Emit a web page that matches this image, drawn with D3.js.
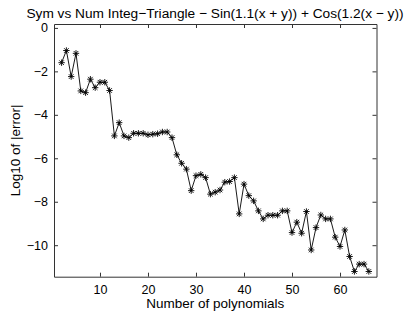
<!DOCTYPE html>
<html lang="en">
<head>
<meta charset="utf-8">
<title>Sym vs Num Integ</title>
<script src="https://d3js.org/d3.v7.min.js"></script>
<style type="text/css">
  body { margin: 0; background: #fff; }
  svg { display: block; font-family: "Liberation Sans", Arial, sans-serif; }
</style>
</head>
<body>
<script type="text/javascript">

  // number of polynomials
  var nPoly = [2, 3, 4, 5, 6, 7, 8, 9, 10, 11, 12, 13, 14, 15, 16, 17, 18, 19, 20, 21,
               22, 23, 24, 25, 26, 27, 28, 29, 30, 31, 32, 33, 34, 35, 36, 37, 38, 39, 40, 41,
               42, 43, 44, 45, 46, 47, 48, 49, 50, 51, 52, 53, 54, 55, 56, 57, 58, 59, 60, 61,
               62, 63, 64, 65, 66];
  // log10 of |error|
  var logErr = [-1.60, -1.04, -2.24, -1.17, -2.90, -2.98, -2.36, -2.75, -2.50, -2.50,
                -2.88, -4.97, -4.36, -4.97, -5.05, -4.85, -4.85, -4.85, -4.92, -4.89,
                -4.87, -4.79, -4.79, -5.05, -5.84, -6.23, -6.50, -7.49, -6.80, -6.74,
                -6.89, -7.65, -7.56, -7.46, -7.10, -7.07, -6.89, -8.56, -7.19, -7.72,
                -7.96, -8.42, -8.79, -8.62, -8.62, -8.62, -8.42, -8.42, -9.42, -8.94,
                -9.45, -8.45, -10.22, -9.19, -8.61, -8.79, -8.79, -9.63, -10.06, -9.30,
                -10.52, -11.21, -10.87, -10.87, -11.21];

  var xTicks = [10, 20, 30, 40, 50, 60];
  var yTicks = [0, -2, -4, -6, -8, -10];

  var W = 415, H = 312;
  var margin = {top: 24, right: 38.5, bottom: 35.3, left: 54};
  var width = W - margin.left - margin.right;
  var height = H - margin.top - margin.bottom;

  var svg = d3.select("body").append("svg")
      .attr("width", W)
      .attr("height", H);

  var g = svg.append("g")
      .attr("transform", "translate(" + margin.left + "," + margin.top + ")");

  var x = d3.scaleLinear().domain([0.42, 67.6]).range([0, width]);
  var y = d3.scaleLinear().domain([-11.45, 0.18]).range([height, 0]);

  // axes, MATLAB style: ticks inside, box on
  var axColor = "#333";
  var tk = 4;

  var xBottom = d3.axisBottom(x).tickValues(xTicks).tickSizeInner(-tk).tickSizeOuter(0).tickPadding(8);
  var xTop = d3.axisTop(x).tickValues(xTicks).tickSizeInner(-tk).tickSizeOuter(0).tickFormat("");
  var yLeft = d3.axisLeft(y).tickValues(yTicks).tickSizeInner(-tk).tickSizeOuter(0).tickPadding(6)
      .tickFormat(function(d) { return d < 0 ? "\u2212" + (-d) : d; });
  var yRight = d3.axisRight(y).tickValues(yTicks).tickSizeInner(-tk).tickSizeOuter(0).tickFormat("");

  g.append("g").attr("transform", "translate(0," + height + ")").call(xBottom);
  g.append("g").call(xTop);
  g.append("g").call(yLeft);
  g.append("g").attr("transform", "translate(" + width + ",0)").call(yRight);

  g.selectAll(".domain").attr("stroke", axColor);
  g.selectAll(".tick line").attr("stroke", axColor);
  g.selectAll(".tick text").attr("fill", "#000").attr("font-size", "12.5px")
      .attr("font-family", "Liberation Sans, Arial, sans-serif");

  // line
  var line = d3.line()
      .x(function(d, i) { return x(nPoly[i]); })
      .y(function(d) { return y(d); });

  g.append("path")
      .datum(logErr)
      .attr("fill", "none")
      .attr("stroke", "#000")
      .attr("stroke-width", 0.9)
      .attr("d", line);

  // asterisk markers
  var r = 3.2, rd = r * 0.72;
  var star = "M" + (-r) + ",0L" + r + ",0M0," + (-r) + "L0," + r +
             "M" + (-rd) + "," + (-rd) + "L" + rd + "," + rd +
             "M" + (-rd) + "," + rd + "L" + rd + "," + (-rd);

  g.selectAll("path.mark")
      .data(logErr)
      .enter()
      .append("path")
      .attr("class", "mark")
      .attr("transform", function(d, i) { return "translate(" + x(nPoly[i]) + "," + y(d) + ")"; })
      .attr("d", star)
      .attr("fill", "none")
      .attr("stroke", "#000")
      .attr("stroke-width", 0.9);

  // labels
  svg.append("text")
      .attr("x", 215)
      .attr("y", 18)
      .attr("text-anchor", "middle")
      .attr("font-size", "13.7px")
      .text("Sym vs Num Integ\u2212Triangle \u2212 Sin(1.1(x + y)) + Cos(1.2(x \u2212 y))");

  svg.append("text")
      .attr("x", margin.left + width / 2)
      .attr("y", 308)
      .attr("text-anchor", "middle")
      .attr("font-size", "13.5px")
      .text("Number of polynomials");

  svg.append("text")
      .attr("transform", "translate(20," + (margin.top + height / 2) + ") rotate(-90)")
      .attr("text-anchor", "middle")
      .attr("font-size", "13.5px")
      .text("Log10 of |error|");

</script>
</body>
</html>
